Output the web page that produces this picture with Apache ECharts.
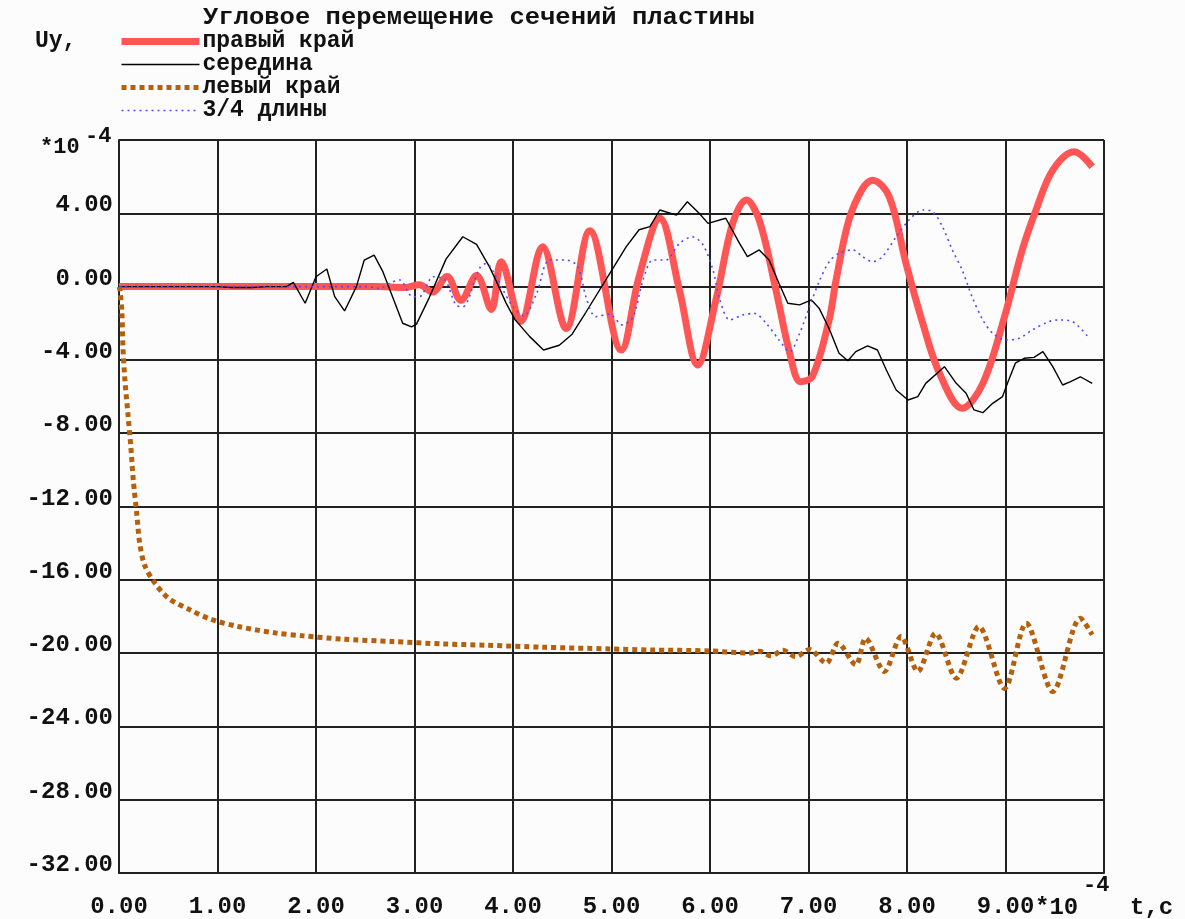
<!DOCTYPE html>
<html>
<head>
<meta charset="utf-8">
<script src="https://cdn.jsdelivr.net/npm/echarts@6/dist/echarts.min.js"></script>
<style>
  html, body { margin: 0; padding: 0; background: #fcfcfc; }
  #chart { width: 1185px; height: 919px; }
</style>
</head>
<body>
<div id="chart"></div>
<script>
// Angular displacement of plate sections, Uy (×1e-4) vs time t (×1e-4 s)

const seriesNames = ['правый край', 'середина', 'левый край', '3/4 длины'];

// right edge
const rightEdge = [
  [0, 0], [1, 0], [2, 0], [2.6, 0], [2.9, -0.05], [3.05, 0.1], [3.18, -0.3],
  [3.33, 0.55], [3.47, -0.75], [3.63, 0.6], [3.78, -1.25], [3.88, 1.36],
  [4.08, -1.9], [4.3, 2.18], [4.54, -2.28], [4.78, 3.05], [5.1, -3.46],
  [5.28, 0.54], [5.49, 3.73], [5.69, -0.2], [5.875, -4.28], [6.06, -0.73],
  [6.23, 3.45], [6.37, 4.72], [6.5, 3.63], [6.67, -0.2], [6.81, -3.64],
  [6.92, -5.19], [7.04, -4.9], [7.21, -1.8], [7.28, 0.36], [7.41, 3.63],
  [7.55, 5.36], [7.65, 5.81], [7.82, 4.9], [7.99, 1.27], [8.16, -2.0],
  [8.33, -4.73], [8.56, -6.64], [8.77, -5.28], [8.99, -1.64], [9.17, 2.0],
  [9.31, 4.18], [9.48, 6.36], [9.7, 7.36], [9.88, 6.54]
];

// middle
const middle = [
  [0, 0], [1.0, 0], [1.15, -0.05], [1.35, -0.05], [1.5, 0], [1.7, 0],
  [1.77, 0.23], [1.89, -0.91], [2.0, 0.54], [2.11, 0.96], [2.19, -0.55],
  [2.29, -1.33], [2.41, 0], [2.49, 1.45], [2.59, 1.72], [2.68, 0.8],
  [2.78, -0.6], [2.88, -2.0], [2.97, -2.2], [3.02, -2.05], [3.15, -0.6],
  [3.32, 1.5], [3.49, 2.72], [3.63, 2.3], [3.76, 1.09], [3.83, 0.3],
  [3.93, -0.9], [4.02, -1.8], [4.17, -2.73], [4.31, -3.46], [4.47, -3.2],
  [4.6, -2.6], [4.74, -1.4], [4.98, 0.7], [5.15, 2.18], [5.28, 3.1],
  [5.39, 3.27], [5.49, 4.18], [5.66, 3.9], [5.77, 4.63], [5.89, 4.0],
  [5.98, 3.45], [6.16, 3.73], [6.3, 2.36], [6.38, 1.63], [6.5, 2.0],
  [6.6, 1.45], [6.7, 0.18], [6.79, -0.91], [6.91, -1.0], [7.03, -0.73],
  [7.11, -1.2], [7.21, -2.3], [7.31, -3.64], [7.4, -4.05], [7.48, -3.55],
  [7.6, -3.24], [7.7, -3.46], [7.79, -4.55], [7.89, -5.64], [8.01, -6.19],
  [8.11, -6.0], [8.19, -5.28], [8.38, -4.37], [8.5, -5.28], [8.6, -5.82],
  [8.68, -6.73], [8.77, -6.88], [8.87, -6.37], [8.97, -6.0], [9.02, -5.28],
  [9.1, -4.18], [9.19, -3.91], [9.29, -3.86], [9.38, -3.55], [9.48, -4.37],
  [9.58, -5.37], [9.66, -5.19], [9.76, -4.92], [9.88, -5.28]
];

// left edge
const leftEdge = [
  [0, 0], [0.01, -0.19], [0.03, -1.46], [0.04, -3.28], [0.06, -5.1],
  [0.09, -6.91], [0.12, -8.73], [0.145, -10.55], [0.18, -12.37], [0.21, -14.0],
  [0.26, -15.2], [0.36, -16.15], [0.5, -17.0], [0.72, -17.64], [0.93, -18.15],
  [1.21, -18.55], [1.6, -18.91], [1.87, -19.06], [2.27, -19.24], [2.78, -19.37],
  [3.29, -19.5], [3.73, -19.57], [4.3, -19.68], [4.98, -19.77], [5.39, -19.83],
  [5.99, -19.88], [6.4, -20.0], [6.5, -19.9], [6.62, -20.15], [6.74, -19.85],
  [6.87, -20.2], [7.01, -19.8], [7.18, -20.55], [7.3, -19.46], [7.48, -20.64],
  [7.58, -19.19], [7.77, -21.0], [7.94, -19.1], [8.11, -21.0], [8.29, -18.92],
  [8.5, -21.37], [8.73, -18.55], [8.99, -21.93], [9.21, -18.37], [9.48, -22.1],
  [9.76, -18.1], [9.88, -19.0]
];

// three quarters of the length
const threeQuarter = [
  [0, 0], [1.0, 0], [1.5, 0], [2.0, 0], [2.5, 0], [2.65, -0.1], [2.75, 0.2],
  [2.85, 0.36], [2.98, -0.55], [3.05, -0.55], [3.19, 0.54], [3.31, 0.36],
  [3.42, -1.0], [3.49, -1.1], [3.66, 1.0], [3.73, 1.27], [3.81, 0.73],
  [3.9, -0.2], [4.0, -1.1], [4.11, -1.6], [4.24, -0.37], [4.37, 1.45],
  [4.54, 1.45], [4.66, 1.09], [4.74, -0.55], [4.84, -1.64], [4.98, -1.5],
  [5.11, -2.09], [5.22, -1.64], [5.32, 0.36], [5.42, 1.45], [5.55, 1.45],
  [5.69, 2.36], [5.82, 2.72], [5.93, 2.27], [6.03, 0.91], [6.1, -0.73],
  [6.2, -1.82], [6.33, -1.55], [6.45, -1.46], [6.57, -2.0], [6.7, -2.91],
  [6.81, -3.55], [6.91, -2.55], [7.01, -1.1], [7.11, 0.3], [7.21, 1.36],
  [7.31, 1.82], [7.45, 2.0], [7.55, 1.63], [7.65, 1.36], [7.75, 1.63],
  [7.89, 2.72], [8.02, 3.63], [8.16, 4.18], [8.26, 4.09], [8.36, 3.27],
  [8.46, 2.0], [8.56, 0.91], [8.66, -0.55], [8.77, -1.82], [8.87, -2.55],
  [9.0, -2.91], [9.14, -2.82], [9.27, -2.37], [9.44, -1.91], [9.54, -1.82],
  [9.68, -1.91], [9.85, -2.82]
];

// axis ranges (×1e-4)
const xRange = [0, 10, 1];
const yRange = [-32, 8, 4];

const FONT = '"Liberation Mono", "DejaVu Sans Mono", monospace';
const INK = '#111';

const chart = echarts.init(document.getElementById('chart'), null, { renderer: 'canvas' });

const txt = (text, x, y, size, sx) => ({
  type: 'text', x, y, scaleX: sx || 1,
  style: { text, fontFamily: FONT, fontWeight: 'bold', fontSize: size, fill: INK }
});

chart.setOption({
  animation: false,
  backgroundColor: '#fcfcfc',
  legend: {
    orient: 'vertical', left: 118, top: 30, padding: 0,
    itemWidth: 78, itemHeight: 12, itemGap: 0,
    data: seriesNames,
    itemStyle: { color: 'rgba(0,0,0,0)', borderColor: 'rgba(0,0,0,0)', borderWidth: 0 },
    lineStyle: { width: 'inherit' },
    textStyle: { fontFamily: FONT, fontWeight: 'bold', fontSize: 23, color: INK, lineHeight: 18, padding: [0, 0, 0, -2] }
  },
  grid: { left: 119, right: 81, top: 140, bottom: 46 },
  xAxis: {
    type: 'value', min: xRange[0], max: xRange[1], interval: xRange[2],
    axisLine: { onZero: false, lineStyle: { color: '#222', width: 2 } },
    axisTick: { show: false },
    splitLine: { lineStyle: { color: '#222', width: 2 } },
    axisLabel: {
      margin: 22, fontFamily: FONT, fontWeight: 'bold', fontSize: 24, color: INK,
      formatter: v => (v === xRange[1] ? '' : v.toFixed(2))
    }
  },
  yAxis: {
    type: 'value', min: yRange[0], max: yRange[1], interval: yRange[2],
    axisLine: { show: true, lineStyle: { color: '#222', width: 2 } },
    axisTick: { show: false },
    splitLine: { lineStyle: { color: '#222', width: 2 } },
    axisLabel: {
      margin: 6, verticalAlign: 'bottom', lineHeight: 16,
      fontFamily: FONT, fontWeight: 'bold', fontSize: 24, color: INK,
      formatter: v => (v === yRange[1] ? '' : v.toFixed(2))
    }
  },
  graphic: [
    txt('Угловое перемещение сечений пластины', 203, 7, 23, 1.11),
    txt('Uy,', 35, 30, 23),
    txt('*10', 40, 136, 22),
    txt('-4', 85, 125, 22),
    txt('*10', 1035, 896, 24),
    txt('-4', 1083, 874, 22),
    txt('t,c', 1130, 896, 24)
  ],
  series: [
    { name: seriesNames[0], type: 'line', data: rightEdge, showSymbol: false, symbol: 'none',
      smooth: 0.35, lineStyle: { color: '#ff5555', width: 7 }, itemStyle: { color: '#ff5555' } },
    { name: seriesNames[1], type: 'line', data: middle, showSymbol: false, symbol: 'none',
      lineStyle: { color: '#000', width: 1.4 }, itemStyle: { color: '#000' } },
    { name: seriesNames[2], type: 'line', data: leftEdge, showSymbol: false, symbol: 'none',
      smooth: 0.3, lineStyle: { color: '#b5600c', width: 5, type: [5, 4] }, itemStyle: { color: '#b5600c' } },
    { name: seriesNames[3], type: 'line', data: threeQuarter, showSymbol: false, symbol: 'none',
      smooth: 0.3, lineStyle: { color: '#4d4dff', width: 1.6, type: [2, 4] }, itemStyle: { color: '#4d4dff' } }
  ]
});
</script>
</body>
</html>
